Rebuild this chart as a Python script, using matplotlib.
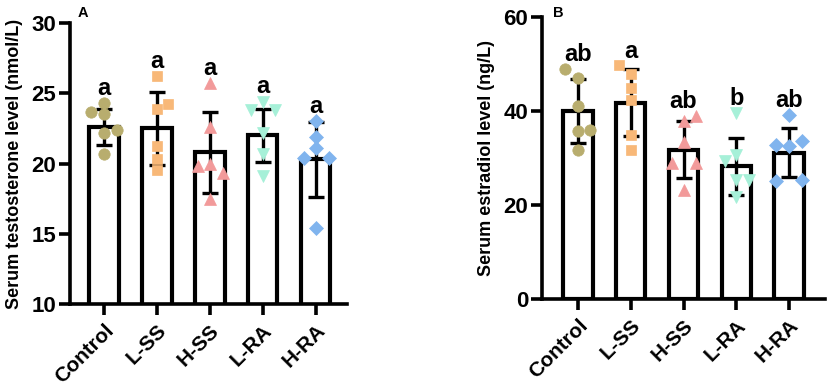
import matplotlib
matplotlib.use("Agg")
import matplotlib.pyplot as plt
import numpy as np

plt.rcParams['font.family'] = ['Liberation Sans', 'DejaVu Sans']
plt.rcParams['font.weight'] = 'bold'

groups = ["Control", "L-SS", "H-SS", "L-RA", "H-RA"]

# Panel A: testosterone (nmol/L)
t_mean = [22.6, 22.5, 20.8, 22.0, 20.3]
t_sd = [1.25, 2.6, 2.9, 1.9, 2.65]
t_points = [
    [24.3, 23.7, 23.5, 22.4, 22.2, 20.7],
    [26.2, 24.25, 23.9, 21.25, 20.3, 19.55],
    [25.7, 22.6, 19.85, 20.0, 19.3, 17.45],
    [24.4, 23.8, 23.8, 22.2, 20.7, 19.1],
    [23.0, 21.9, 21.1, 20.4, 20.4, 15.4],
]
t_letters = ["a", "a", "a", "a", "a"]

# Panel B: estradiol (ng/L)
e_mean = [40.0, 41.8, 31.8, 28.2, 31.1]
e_sd = [6.85, 7.15, 6.0, 6.1, 5.2]
e_points = [
    [48.9, 47.0, 41.1, 35.7, 36.0, 31.7],
    [49.7, 47.9, 44.9, 42.3, 34.9, 31.7],
    [37.8, 39.0, 33.5, 28.9, 28.9, 23.1],
    [39.6, 30.7, 29.3, 25.4, 25.4, 21.8],
    [39.1, 33.7, 32.7, 32.5, 25.1, 25.4],
]
e_letters = ["ab", "a", "ab", "b", "ab"]

# horizontal jitter offsets for points
t_dx = [
    [0, -0.7, 0, 0.7, 0, 0],
    [0, 0.62, 0, 0, 0, 0],
    [0, 0, -0.65, 0, 0.7, 0],
    [0, -0.65, 0.65, 0, 0, 0],
    [0, 0, 0, -0.65, 0.7, 0],
]
e_dx = [
    [-0.7, 0, 0, 0, 0.65, 0],
    [-0.65, 0, 0, 0, 0, 0],
    [0, 0.7, 0, -0.6, 0.7, 0],
    [0, 0, -0.6, 0, 0.7, 0],
    [0, 0.7, -0.7, 0, -0.7, 0.7],
]

colors = ["#b8ad6e", "#f8b878", "#f29a9a", "#a6f0d8", "#80b4ee"]
markers = ["o", "s", "^", "v", "D"]
msizes = [8.2, 7.6, 8.6, 8.6, 6.8]

fig = plt.figure(figsize=(8.29, 3.88), dpi=100)
axA = fig.add_axes([0.0844, 0.2165, 0.3346, 0.7242])
axB = fig.add_axes([0.654, 0.2294, 0.341, 0.7266])


def draw(ax, means, sds, pts, dxs, letters, ylim, yticks, ylabel, xlim, off):
    x = np.arange(len(groups))
    ax.bar(x, means, width=0.555, color="white", edgecolor="black", linewidth=3.0, zorder=2)
    ax.errorbar(x, means, yerr=sds, fmt="none", ecolor="black", elinewidth=2.4,
                capsize=6, capthick=2.4, zorder=3)
    for i in range(len(groups)):
        xs = x[i] + np.array(dxs[i]) * 0.35
        ax.plot(xs, pts[i], linestyle="none", marker=markers[i], color=colors[i],
                markersize=msizes[i], markeredgecolor=colors[i], markeredgewidth=0.5, zorder=4)
        top = max(max(pts[i]), means[i] + sds[i])
        ax.text(x[i], top + off, letters[i], ha="center", va="bottom",
                fontsize=17, fontweight="bold", zorder=5)
    ax.set_ylim(*ylim)
    ax.set_xlim(*xlim)
    ax.set_yticks(yticks)
    ax.set_xticks(x)
    ax.set_xticklabels(groups, rotation=45, ha="right", rotation_mode="anchor",
                       fontsize=15, fontweight="bold")
    ax.set_yticklabels([str(v) for v in yticks], fontsize=16, fontweight="bold")
    ax.set_ylabel(ylabel, fontsize=13, fontweight="bold", labelpad=6)
    for s in ["top", "right"]:
        ax.spines[s].set_visible(False)
    for s in ["left", "bottom"]:
        ax.spines[s].set_linewidth(2.6)
        ax.spines[s].set_zorder(6)
    ax.tick_params(axis="both", width=2.6, length=8, direction="out", pad=2)
    ax.tick_params(axis="x", pad=4)


draw(axA, t_mean, t_sd, t_points, t_dx, t_letters, (10, 30), [10, 15, 20, 25, 30],
     "Serum testosterone level (nmol/L)", (-0.645, 4.6), 0.25)
draw(axB, e_mean, e_sd, e_points, e_dx, e_letters, (0, 60), [0, 20, 40, 60],
     "Serum estradiol level (ng/L)", (-0.68, 4.68), 0.6)

fig.text(83 / 829, 1 - 13 / 388, "A", fontsize=10.5, fontweight="bold", ha="center", va="center")
fig.text(558 / 829, 1 - 13 / 388, "B", fontsize=10.5, fontweight="bold", ha="center", va="center")

fig.savefig("out.png", dpi=100)
